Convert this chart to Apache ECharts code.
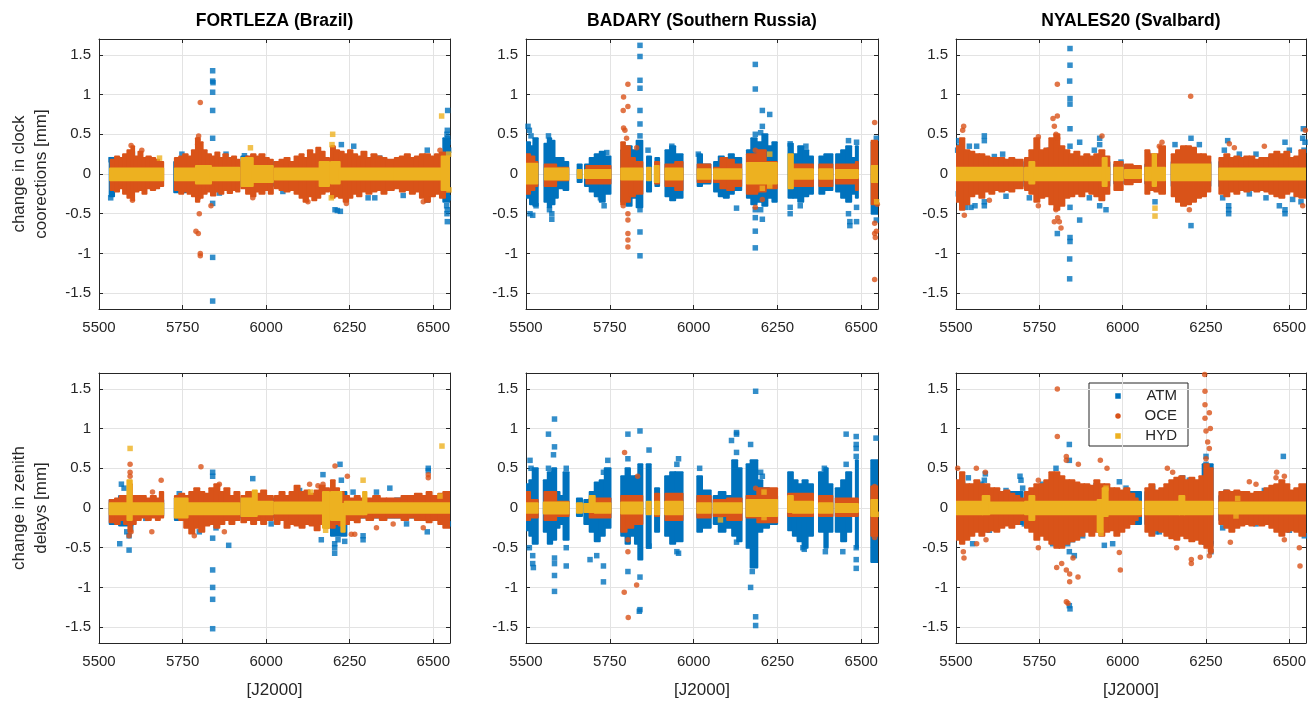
<!DOCTYPE html>
<html>
<head>
<meta charset="utf-8">
<title>Loading effects on clock and zenith delay estimates</title>
<script src="https://cdn.jsdelivr.net/npm/echarts@6/dist/echarts.min.js"></script>
<style>
  html, body { margin: 0; padding: 0; background: #ffffff; }
  #chart { width: 1316px; height: 701px; }
</style>
</head>
<body>
<div id="chart"></div>
<script>
// ---- labels and ticks ----
const stationTitles = ['FORTLEZA (Brazil)', 'BADARY (Southern Russia)', 'NYALES20 (Svalbard)'];
const rowLabels = ['change in clock\ncoorections [mm]', 'change in zenith\ndelays [mm]'];
const xAxisName = '[J2000]';
const seriesNames = ['ATM', 'OCE', 'HYD'];
const xTicks = [5500, 5750, 6000, 6250, 6500];
const yTicks = [-1.5, -1, -0.5, 0, 0.5, 1, 1.5];
const xRange = [5500, 6550];
const yRange = [-1.7, 1.7];

// ---- data: dense daily clouds as [dayFrom, dayTo, low, high], isolated values as [day, value] ----

// FORTLEZA, clock corrections
const fortClkAtmBand = [[5532,5545,-0.28,0.2],[5545,5690,-0.15,0.15],[5725,5760,-0.23,0.15],[5760,5920,-0.15,0.15],[5926,5945,-0.15,0.22],[5945,6020,-0.15,0.15],[6026,6188,-0.15,0.15],[6194,6250,-0.2,0.2],[6250,6382,-0.15,0.15],[6385,6530,-0.15,0.15],[6530,6550,-0.35,0.45]];
const fortClkAtmPts = [[5535,-0.3],[5536,0.18],[5538,-0.25],[5600,0.25],[5748,0.25],[5840,1.3],[5840,1.17],[5841,1.15],[5840,1.03],[5840,0.8],[5840,0.45],[5840,-0.37],[5840,-1.05],[5840,-1.6],[5880,0.25],[5935,0.23],[6206,-0.45],[6213,-0.46],[6222,-0.47],[6225,0.37],[6262,0.35],[6305,-0.3],[6325,-0.3],[6340,0.2],[6482,0.3],[6482,-0.33],[6543,0.8],[6542,0.55],[6541,0.5],[6543,0.45],[6544,0.4],[6540,-0.4],[6542,-0.45],[6541,-0.5],[6542,-0.6],[6546,0.3],[6545,-0.3],[5860,-0.24],[6050,-0.22],[6200,0.3],[6410,-0.27]];
const fortClkOceBand = [[5535,5548,-0.2,0.18],[5548,5560,-0.22,0.22],[5560,5572,-0.18,0.2],[5572,5585,-0.25,0.25],[5585,5597,-0.3,0.3],[5597,5605,-0.33,0.35],[5605,5618,-0.22,0.22],[5618,5630,-0.2,0.28],[5630,5642,-0.25,0.2],[5642,5655,-0.18,0.22],[5655,5668,-0.2,0.2],[5668,5680,-0.18,0.18],[5680,5692,-0.15,0.15],
  [5727,5740,-0.2,0.2],[5740,5752,-0.25,0.22],[5752,5765,-0.22,0.25],[5765,5778,-0.25,0.22],[5778,5790,-0.28,0.3],[5790,5800,-0.35,0.45],[5800,5810,-0.3,0.4],[5810,5822,-0.25,0.3],[5822,5835,-0.22,0.25],[5835,5848,-0.27,0.22],[5848,5860,-0.22,0.27],[5860,5872,-0.25,0.2],[5872,5885,-0.2,0.25],[5885,5898,-0.24,0.2],[5898,5910,-0.2,0.22],[5910,5920,-0.22,0.18],
  [5926,5940,-0.18,0.15],[5940,5955,-0.25,0.22],[5955,5968,-0.28,0.25],[5968,5980,-0.22,0.22],[5980,5995,-0.25,0.25],[5995,6008,-0.2,0.2],[6008,6020,-0.25,0.18],
  [6026,6040,-0.18,0.15],[6040,6055,-0.2,0.18],[6055,6070,-0.22,0.2],[6070,6085,-0.2,0.15],[6085,6100,-0.25,0.22],[6100,6112,-0.3,0.25],[6112,6125,-0.35,0.2],[6125,6138,-0.28,0.3],[6138,6150,-0.33,0.25],[6150,6162,-0.3,0.33],[6162,6175,-0.25,0.28],[6175,6188,-0.22,0.2],
  [6194,6205,-0.3,0.35],[6205,6218,-0.28,0.3],[6218,6232,-0.3,0.28],[6232,6245,-0.35,0.25],[6245,6258,-0.3,0.3],[6258,6272,-0.25,0.25],[6272,6285,-0.28,0.22],[6285,6300,-0.22,0.28],[6300,6315,-0.25,0.2],[6315,6330,-0.22,0.25],[6330,6345,-0.2,0.22],[6345,6360,-0.25,0.2],[6360,6382,-0.2,0.18],
  [6385,6400,-0.18,0.2],[6400,6415,-0.22,0.22],[6415,6430,-0.2,0.25],[6430,6445,-0.25,0.2],[6445,6460,-0.22,0.22],[6460,6475,-0.3,0.25],[6475,6490,-0.35,0.25],[6490,6505,-0.28,0.22],[6505,6520,-0.25,0.25],[6520,6535,-0.3,0.27],[6535,6550,-0.22,0.22]];
const fortClkOcePts = [[5596,0.36],[5600,-0.33],[5628,0.3],[5803,0.9],[5798,0.48],[5797,0.43],[5795,0.37],[5800,0.35],[5797,-0.3],[5800,-0.5],[5790,-0.72],[5797,-0.75],[5803,-1.0],[5803,-1.03],[5835,-0.4],[5960,-0.3],[6125,-0.35],[6200,0.33],[6240,-0.37],[6470,-0.35],[6520,0.3]];
const fortClkHydBand = [[5533,5692,-0.08,0.07],[5727,5790,-0.08,0.07],[5790,5835,-0.12,0.1],[5835,5920,-0.08,0.08],[5926,5960,-0.15,0.2],[5960,6020,-0.1,0.1],[6026,6160,-0.07,0.07],[6160,6188,-0.15,0.15],[6194,6220,-0.12,0.15],[6220,6382,-0.07,0.07],[6385,6525,-0.07,0.07],[6525,6550,-0.2,0.22]];
const fortClkHydPts = [[5681,0.2],[5953,0.33],[6199,0.5],[6197,0.37],[6195,-0.3],[6525,0.73],[6547,-0.2],[6546,0.25]];

// BADARY, clock corrections
const badClkAtmBand = [[5500,5512,-0.3,0.4],[5512,5522,-0.38,0.35],[5522,5535,-0.4,0.45],
  [5555,5565,-0.35,0.38],[5565,5575,-0.42,0.45],[5575,5585,-0.38,0.42],[5585,5595,-0.3,0.2],[5595,5612,-0.18,0.2],[5612,5626,-0.2,0.15],
  [5654,5666,-0.1,0.12],
  [5676,5690,-0.15,0.12],[5690,5705,-0.22,0.2],[5705,5720,-0.28,0.25],[5720,5735,-0.35,0.28],[5735,5752,-0.25,0.22],
  [5784,5800,-0.35,0.3],[5800,5815,-0.4,0.35],[5815,5830,-0.3,0.3],[5830,5847,-0.42,0.42],
  [5861,5873,-0.22,0.22],[5886,5897,-0.15,0.2],
  [5916,5930,-0.28,0.3],[5930,5945,-0.33,0.35],[5945,5967,-0.3,0.25],
  [6012,6025,-0.15,0.25],[6025,6050,-0.12,0.12],
  [6061,6075,-0.22,0.15],[6075,6090,-0.28,0.22],[6090,6105,-0.3,0.2],[6105,6120,-0.25,0.25],[6120,6142,-0.2,0.2],
  [6159,6172,-0.3,0.3],[6172,6188,-0.38,0.45],[6188,6205,-0.35,0.4],[6205,6220,-0.4,0.5],[6220,6235,-0.3,0.35],[6235,6248,-0.35,0.4],
  [6283,6296,-0.3,0.38],
  [6297,6312,-0.3,0.25],[6312,6327,-0.35,0.35],[6327,6342,-0.28,0.3],[6342,6356,-0.25,0.22],
  [6375,6390,-0.25,0.22],[6390,6414,-0.2,0.25],
  [6425,6440,-0.22,0.25],[6440,6455,-0.3,0.3],[6455,6470,-0.35,0.35],[6470,6480,-0.25,0.2],[6484,6490,-0.3,0.35],
  [6531,6550,-0.5,0.4]];
const badClkAtmPts = [[5506,0.6],[5510,0.55],[5515,0.48],[5512,-0.5],[5520,-0.52],[5530,-0.4],[5567,0.48],[5577,-0.5],[5577,-0.57],[5570,-0.45],[5733,-0.4],[5722,-0.3],[5741,0.27],[5840,1.62],[5840,1.48],[5840,1.18],[5840,1.08],[5840,0.8],[5840,0.63],[5840,0.48],[5840,-0.45],[5840,-0.73],[5840,-1.03],[5864,0.3],[5935,0.35],[6014,0.25],[6128,-0.43],[6184,1.38],[6184,1.07],[6205,0.8],[6227,0.75],[6205,0.6],[6200,0.52],[6184,0.5],[6184,-0.45],[6184,-0.55],[6184,-0.72],[6184,-0.93],[6205,-0.57],[6200,-0.45],[6288,-0.5],[6288,-0.42],[6288,0.38],[6318,-0.4],[6335,0.35],[6462,0.42],[6462,-0.5],[6466,-0.6],[6466,-0.65],[6486,-0.6],[6486,-0.42],[6486,0.4],[6545,-0.58],[6545,0.45]];
const badClkOceBand = [[5500,5512,-0.25,0.25],[5512,5525,-0.2,0.22],[5525,5534,-0.15,0.15],
  [5556,5590,-0.15,0.12],[5590,5626,-0.08,0.08],
  [5680,5752,-0.12,0.1],
  [5784,5795,-0.38,0.4],[5795,5810,-0.35,0.35],[5810,5825,-0.28,0.2],[5825,5847,-0.25,0.15],
  [5885,5897,-0.12,0.15],
  [5916,5945,-0.15,0.12],[5945,5967,-0.2,0.15],
  [6012,6050,-0.1,0.12],
  [6061,6080,-0.1,0.08],[6080,6100,-0.18,0.2],[6100,6120,-0.2,0.18],[6120,6142,-0.15,0.12],
  [6159,6190,-0.25,0.25],[6190,6215,-0.22,0.3],[6215,6248,-0.18,0.15],
  [6297,6356,-0.15,0.12],
  [6375,6414,-0.15,0.12],
  [6425,6480,-0.12,0.12],[6484,6490,-0.2,0.15],
  [6531,6550,-0.38,0.42]];
const badClkOcePts = [[5804,1.13],[5791,0.97],[5804,0.85],[5790,0.8],[5791,0.58],[5795,0.55],[5800,0.45],[5804,-0.5],[5804,-0.58],[5804,-0.75],[5804,-0.83],[5804,-0.92],[5790,-0.4],[5830,0.33],[6184,-0.42],[6184,0.3],[6205,-0.32],[6540,0.65],[6540,-0.62],[6540,-0.75],[6542,-0.8],[6545,-0.72],[6540,-1.33],[6548,-0.38]];
const badClkHydBand = [[5500,5534,-0.12,0.13],[5556,5626,-0.07,0.07],[5654,5666,-0.05,0.05],[5676,5752,-0.05,0.05],[5784,5847,-0.07,0.07],[5861,5872,-0.08,0.08],[5884,5896,-0.1,0.1],[5916,5967,-0.07,0.07],[6012,6050,-0.06,0.06],[6061,6142,-0.06,0.06],[6159,6248,-0.12,0.14],[6283,6296,-0.18,0.25],[6297,6356,-0.06,0.06],[6375,6414,-0.06,0.06],[6425,6490,-0.05,0.05],[6531,6550,-0.1,0.1]];
const badClkHydPts = [[6227,0.25],[6227,-0.15],[6205,-0.18],[6546,-0.35]];

// NYALES20, clock corrections
const nyaClkAtmBand = [[5500,5700,-0.15,0.15],[5707,5960,-0.15,0.15],[5975,6000,-0.12,0.12],[6007,6055,-0.08,0.08],[6068,6127,-0.12,0.12],[6147,6263,-0.15,0.15],[6290,6550,-0.15,0.15]];
const nyaClkAtmPts = [[5508,0.42],[5510,0.35],[5528,-0.42],[5545,-0.42],[5557,-0.4],[5540,0.35],[5562,0.35],[5585,0.48],[5585,0.42],[5585,-0.4],[5585,-0.35],[5615,0.22],[5842,1.58],[5842,1.37],[5841,1.17],[5842,0.95],[5842,0.88],[5842,0.57],[5842,0.35],[5842,-0.42],[5842,-0.8],[5842,-0.85],[5841,-1.07],[5841,-1.32],[5804,-0.75],[5871,-0.58],[5871,0.4],[5931,0.45],[5931,0.37],[5931,-0.4],[5950,-0.45],[5995,0.15],[6097,-0.35],[6157,0.37],[6205,0.45],[6205,-0.65],[6230,0.37],[6315,0.42],[6318,-0.4],[6318,-0.45],[6318,-0.5],[6470,-0.4],[6487,-0.45],[6487,-0.5],[6487,0.4],[6542,0.57],[6540,0.45],[6544,0.3],
  [5505,0.3],[5507,-0.25],[5520,-0.3],[5640,0.25],[5650,-0.28],[5720,-0.3],[5780,0.3],[5900,-0.3],[5915,0.3],[6075,0.25],[6300,-0.3],[6305,0.3],[6350,0.25],[6380,-0.25],[6400,0.25],[6430,-0.3],[6445,0.2],[6500,0.3],[6510,-0.32],[6535,-0.35],[6547,0.4]];
const nyaClkOceBand = [[5500,5512,-0.35,0.35],[5512,5525,-0.45,0.45],[5525,5540,-0.38,0.3],[5540,5555,-0.28,0.28],[5555,5570,-0.25,0.25],[5570,5585,-0.3,0.25],[5585,5600,-0.22,0.22],[5600,5615,-0.25,0.2],[5615,5630,-0.2,0.2],[5630,5645,-0.22,0.2],[5645,5660,-0.2,0.18],[5660,5675,-0.22,0.2],[5675,5700,-0.18,0.18],
  [5707,5720,-0.2,0.2],[5720,5735,-0.25,0.3],[5735,5750,-0.35,0.45],[5750,5765,-0.3,0.3],[5765,5780,-0.28,0.32],[5780,5795,-0.38,0.45],[5795,5810,-0.45,0.5],[5810,5825,-0.4,0.35],[5825,5840,-0.3,0.3],[5840,5855,-0.28,0.25],[5855,5870,-0.25,0.28],[5870,5885,-0.28,0.22],[5885,5900,-0.22,0.25],[5900,5915,-0.25,0.22],[5915,5930,-0.28,0.25],[5930,5945,-0.33,0.3],[5945,5960,-0.25,0.22],
  [5975,6000,-0.2,0.15],
  [6007,6030,-0.13,0.12],[6030,6055,-0.1,0.1],
  [6068,6080,-0.25,0.3],[6080,6095,-0.2,0.25],[6095,6110,-0.22,0.25],[6110,6127,-0.25,0.35],
  [6147,6160,-0.28,0.25],[6160,6175,-0.35,0.3],[6175,6190,-0.4,0.35],[6190,6205,-0.38,0.35],[6205,6220,-0.35,0.33],[6220,6235,-0.3,0.25],[6235,6250,-0.28,0.25],[6250,6263,-0.22,0.22],
  [6290,6305,-0.25,0.2],[6305,6320,-0.28,0.25],[6320,6335,-0.22,0.2],[6335,6350,-0.25,0.22],[6350,6365,-0.2,0.2],[6365,6380,-0.22,0.22],[6380,6395,-0.2,0.22],[6395,6410,-0.22,0.18],[6410,6425,-0.2,0.2],[6425,6440,-0.22,0.2],[6440,6455,-0.25,0.25],[6455,6470,-0.28,0.28],[6470,6485,-0.3,0.25],[6485,6500,-0.25,0.28],[6500,6515,-0.22,0.2],[6515,6530,-0.28,0.22],[6530,6550,-0.3,0.3]];
const nyaClkOcePts = [[5523,0.6],[5520,0.55],[5525,-0.52],[5600,-0.33],[5747,0.47],[5747,-0.4],[5804,1.13],[5804,0.73],[5791,0.7],[5795,0.6],[5800,0.5],[5805,0.45],[5800,-0.45],[5805,-0.55],[5795,-0.6],[5815,-0.68],[5810,-0.6],[5938,0.48],[6110,0.35],[6118,0.4],[6204,0.98],[6200,-0.45],[6320,0.38],[6335,0.33],[6425,0.35],[6540,-0.4],[6548,0.55]];
const nyaClkHydBand = [[5500,5700,-0.08,0.08],[5707,5720,-0.08,0.08],[5720,5735,-0.12,0.15],[5735,5940,-0.08,0.08],[5940,5952,-0.15,0.2],[5952,5960,-0.08,0.08],[5975,6000,-0.08,0.08],[6007,6055,-0.05,0.05],[6068,6090,-0.08,0.08],[6090,6100,-0.15,0.25],[6100,6127,-0.08,0.08],[6147,6263,-0.08,0.12],[6290,6550,-0.07,0.07]];
const nyaClkHydPts = [[6097,-0.43],[6097,-0.53]];

// FORTLEZA, zenith delays
const fortZtdAtmBand = [[5532,5560,-0.2,0.1],[5560,5600,-0.22,0.15],[5600,5692,-0.1,0.1],[5727,5920,-0.15,0.12],[5926,6020,-0.12,0.12],[6026,6188,-0.15,0.12],[6194,6240,-0.35,0.2],[6240,6382,-0.12,0.1],[6385,6550,-0.12,0.12]];
const fortZtdAtmPts = [[5567,0.3],[5575,0.25],[5583,-0.3],[5590,-0.35],[5595,-0.25],[5562,-0.45],[5590,-0.53],[5640,-0.13],[5840,0.45],[5840,0.4],[5840,-0.38],[5840,-0.78],[5840,-1.0],[5840,-1.15],[5840,-1.52],[5888,-0.47],[5960,0.37],[6165,-0.4],[6170,0.42],[6205,-0.45],[6205,-0.5],[6205,-0.57],[6215,-0.4],[6221,0.55],[6225,0.35],[6235,-0.42],[6290,-0.35],[6290,-0.4],[6330,0.2],[6370,0.25],[6485,0.5],[6485,0.47],[6482,-0.3],[6545,-0.2],[5740,0.18],[5800,-0.3],[5850,-0.25],[6015,-0.2],[6100,0.22],[6260,0.2],[6420,-0.2]];
const fortZtdOceBand = [[5532,5548,-0.18,0.1],[5548,5562,-0.2,0.12],[5562,5575,-0.15,0.15],[5575,5588,-0.2,0.15],[5588,5598,-0.3,0.3],[5598,5610,-0.2,0.15],[5610,5625,-0.15,0.15],[5625,5640,-0.12,0.15],[5640,5655,-0.15,0.12],[5655,5670,-0.12,0.15],[5670,5682,-0.15,0.12],[5682,5692,-0.12,0.2],
  [5727,5740,-0.12,0.15],[5740,5755,-0.15,0.18],[5755,5770,-0.25,0.15],[5770,5785,-0.32,0.2],[5785,5800,-0.25,0.25],[5800,5815,-0.3,0.2],[5815,5830,-0.22,0.18],[5830,5845,-0.2,0.25],[5845,5860,-0.25,0.3],[5860,5875,-0.2,0.2],[5875,5890,-0.15,0.25],[5890,5905,-0.2,0.15],[5905,5920,-0.15,0.2],
  [5926,5940,-0.18,0.15],[5940,5955,-0.15,0.2],[5955,5970,-0.2,0.15],[5970,5985,-0.15,0.18],[5985,6000,-0.2,0.22],[6000,6020,-0.15,0.15],
  [6026,6040,-0.2,0.15],[6040,6055,-0.15,0.2],[6055,6070,-0.25,0.15],[6070,6085,-0.2,0.2],[6085,6100,-0.22,0.28],[6100,6115,-0.25,0.2],[6115,6130,-0.2,0.22],[6130,6145,-0.22,0.18],[6145,6160,-0.28,0.22],[6160,6175,-0.2,0.28],[6175,6188,-0.25,0.25],
  [6194,6205,-0.25,0.35],[6205,6218,-0.2,0.25],[6218,6232,-0.22,0.2],[6232,6248,-0.2,0.15],[6248,6265,-0.15,0.12],[6265,6280,-0.18,0.15],[6280,6300,-0.12,0.12],[6300,6320,-0.15,0.12],[6320,6340,-0.12,0.15],[6340,6360,-0.15,0.12],[6360,6382,-0.12,0.12],
  [6385,6405,-0.12,0.12],[6405,6425,-0.15,0.15],[6425,6445,-0.12,0.15],[6445,6465,-0.15,0.18],[6465,6480,-0.15,0.15],[6480,6495,-0.18,0.2],[6495,6515,-0.15,0.15],[6515,6530,-0.2,0.18],[6530,6550,-0.25,0.2]];
const fortZtdOcePts = [[5593,0.55],[5593,0.45],[5593,0.4],[5590,-0.35],[5596,-0.3],[5686,0.35],[5658,-0.3],[5660,0.2],[5805,0.52],[5860,0.3],[5875,-0.3],[5785,-0.35],[6130,0.3],[6155,0.28],[6170,0.3],[6206,0.53],[6243,0.4],[6255,-0.33],[6265,-0.33],[6330,-0.25],[6485,0.42],[6485,0.38],[6470,-0.25],[6380,-0.2]];
const fortZtdHydBand = [[5532,5585,-0.08,0.06],[5585,5598,-0.15,0.35],[5598,5692,-0.08,0.06],[5727,5765,-0.12,0.12],[5765,5920,-0.08,0.06],[5926,5960,-0.1,0.12],[5960,5972,-0.1,0.22],[5972,6020,-0.08,0.08],[6026,6170,-0.07,0.07],[6170,6188,-0.25,0.2],[6194,6225,-0.15,0.2],[6225,6235,-0.3,0.05],[6235,6290,-0.08,0.08],[6290,6300,-0.08,0.2],[6300,6550,-0.06,0.06]];
const fortZtdHydPts = [[5593,0.75],[6133,0.2],[6178,-0.28],[6290,0.35],[6526,0.78],[6520,0.15]];

// BADARY, zenith delays
const badZtdAtmBand = [[5500,5510,-0.28,0.3],[5510,5520,-0.35,0.35],[5520,5535,-0.45,0.5],
  [5553,5565,-0.3,0.35],[5565,5578,-0.45,0.45],[5578,5590,-0.4,0.5],[5590,5600,-0.25,0.2],[5600,5612,-0.2,0.15],[5612,5627,-0.4,0.45],
  [5652,5667,-0.1,0.12],
  [5674,5690,-0.2,0.1],[5690,5705,-0.3,0.2],[5705,5720,-0.42,0.32],[5720,5735,-0.35,0.35],[5735,5752,-0.25,0.5],
  [5784,5797,-0.35,0.4],[5797,5810,-0.45,0.5],[5810,5825,-0.35,0.4],[5825,5835,-0.45,0.4],[5835,5847,-0.65,0.55],
  [5860,5872,-0.5,0.55],[5885,5897,-0.3,0.25],
  [5915,5930,-0.35,0.4],[5930,5945,-0.45,0.45],[5945,5967,-0.42,0.45],
  [6011,6025,-0.3,0.4],[6025,6051,-0.25,0.22],
  [6060,6075,-0.2,0.15],[6075,6095,-0.3,0.2],[6095,6115,-0.25,0.15],[6115,6130,-0.35,0.6],[6130,6143,-0.42,0.5],
  [6158,6170,-0.5,0.55],[6170,6190,-0.75,0.6],[6190,6205,-0.3,0.35],[6205,6225,-0.25,0.25],[6225,6249,-0.2,0.15],
  [6282,6296,-0.28,0.45],[6296,6310,-0.35,0.35],[6310,6325,-0.42,0.3],[6325,6340,-0.5,0.35],[6340,6356,-0.35,0.3],
  [6374,6390,-0.3,0.45],[6390,6400,-0.5,0.5],[6400,6414,-0.3,0.3],
  [6424,6440,-0.3,0.25],[6440,6455,-0.42,0.35],[6455,6470,-0.3,0.45],[6484,6490,-0.5,0.6],
  [6530,6550,-0.68,0.6]];
const badZtdAtmPts = [[5512,0.6],[5515,0.5],[5520,-0.6],[5520,-0.7],[5522,-0.75],[5510,-0.5],[5585,1.12],[5567,0.93],[5585,0.77],[5582,0.67],[5567,0.5],[5585,-0.63],[5585,-0.7],[5585,-0.85],[5585,-1.05],[5620,0.5],[5620,-0.5],[5620,-0.73],[5744,0.6],[5731,0.45],[5691,-0.65],[5711,-0.6],[5731,-0.73],[5731,-0.93],[5840,0.97],[5804,0.93],[5804,0.62],[5804,-0.8],[5840,-0.87],[5840,-1.28],[5838,-1.3],[5867,0.73],[5867,-0.48],[5955,0.62],[5950,0.55],[5955,-0.57],[5950,-0.55],[6018,0.5],[6128,0.95],[6128,0.93],[6113,0.85],[6128,0.7],[6128,-0.43],[6185,1.47],[6170,0.8],[6170,-1.0],[6185,-1.37],[6185,-1.48],[6180,-0.7],[6175,-0.8],[6200,0.45],[6205,0.4],[6326,-0.5],[6330,-0.52],[6393,-0.55],[6390,0.5],[6455,0.55],[6445,-0.55],[6455,0.93],[6485,0.9],[6485,0.8],[6485,0.75],[6485,0.65],[6485,-0.5],[6485,-0.65],[6485,-0.76],[6544,0.88]];
const badZtdOceBand = [[5500,5512,-0.15,0.2],[5512,5535,-0.12,0.1],[5555,5590,-0.15,0.2],[5590,5627,-0.1,0.08],[5690,5752,-0.12,0.12],[5784,5800,-0.3,0.15],[5800,5820,-0.25,0.15],[5820,5847,-0.2,0.15],[5885,5897,-0.1,0.18],[5916,5967,-0.15,0.18],[6011,6051,-0.12,0.15],[6060,6100,-0.1,0.1],[6100,6143,-0.15,0.12],[6158,6190,-0.12,0.15],[6190,6249,-0.18,0.25],[6282,6356,-0.1,0.18],[6374,6414,-0.1,0.15],[6424,6490,-0.1,0.12],[6530,6550,-0.35,0.27]];
const badZtdOcePts = [[5794,0.7],[5833,0.4],[5804,-0.4],[5804,-0.55],[5830,-0.97],[5793,-1.06],[5805,-1.38],[6185,0.25],[6540,-0.37],[6540,0.27]];
const badZtdHydBand = [[5500,5535,-0.06,0.06],[5553,5627,-0.07,0.07],[5652,5667,-0.06,0.06],[5674,5690,-0.05,0.05],[5690,5705,-0.05,0.15],[5705,5752,-0.06,0.06],[5784,5847,-0.07,0.07],[5860,5872,-0.08,0.08],[5885,5897,-0.08,0.08],[5915,5967,-0.08,0.08],[6011,6051,-0.06,0.06],[6060,6143,-0.06,0.06],[6158,6249,-0.1,0.1],[6282,6296,-0.05,0.15],[6296,6356,-0.06,0.08],[6374,6414,-0.06,0.06],[6424,6490,-0.05,0.05],[6530,6550,-0.1,0.1]];
const badZtdHydPts = [[6080,-0.15],[6210,0.2],[6210,-0.12],[6545,-0.08]];

// NYALES20, zenith delays
const nyaZtdAtmBand = [[5500,5700,-0.2,0.2],[5707,6055,-0.2,0.2],[6068,6240,-0.2,0.2],[6240,6270,-0.45,0.55],[6290,6550,-0.15,0.15]];
const nyaZtdAtmPts = [[5537,0.38],[5588,0.43],[5585,0.35],[5550,-0.45],[5692,0.4],[5695,0.35],[5840,0.8],[5840,0.6],[5800,0.5],[5835,-0.45],[5840,-0.55],[5855,-0.6],[5850,-0.4],[5840,-1.23],[5842,-1.27],[5945,-0.47],[5970,-0.45],[5990,0.33],[6250,0.65],[6250,0.55],[6252,0.45],[6265,-0.45],[6265,-0.55],[6180,0.38],[6200,0.35],[6100,-0.3],[6482,0.65],[6430,0.2],[6455,0.25],[6320,-0.2],[6545,-0.35],
  [5520,0.3],[5530,-0.3],[5575,0.3],[5600,-0.28],[5650,0.22],[5700,0.25],[5705,-0.2],[5760,0.3],[5790,-0.45],[5820,0.3],[5880,-0.35],[5920,0.28],[6010,0.25],[6090,0.25],[6110,-0.3],[6160,-0.35],[6300,-0.25],[6310,0.2],[6400,-0.2],[6425,0.22],[6500,-0.28],[6540,0.2]];
const nyaZtdOceBand = [[5500,5512,-0.4,0.35],[5512,5525,-0.45,0.45],[5525,5540,-0.4,0.3],[5540,5555,-0.35,0.3],[5555,5570,-0.3,0.35],[5570,5585,-0.35,0.3],[5585,5600,-0.3,0.3],[5600,5615,-0.28,0.25],[5615,5630,-0.3,0.25],[5630,5645,-0.25,0.2],[5645,5660,-0.22,0.22],[5660,5675,-0.25,0.18],[5675,5690,-0.2,0.15],[5690,5702,-0.15,0.12],
  [5707,5720,-0.25,0.2],[5720,5735,-0.3,0.25],[5735,5750,-0.4,0.3],[5750,5765,-0.35,0.3],[5765,5780,-0.4,0.35],[5780,5795,-0.45,0.45],[5795,5810,-0.5,0.45],[5810,5825,-0.5,0.4],[5825,5840,-0.45,0.35],[5840,5855,-0.42,0.35],[5855,5870,-0.4,0.32],[5870,5885,-0.35,0.3],[5885,5900,-0.3,0.3],[5900,5915,-0.35,0.28],[5915,5930,-0.3,0.35],[5930,5945,-0.35,0.3],[5945,5960,-0.3,0.3],[5960,5975,-0.28,0.25],[5975,5990,-0.35,0.25],[5990,6005,-0.3,0.22],[6005,6020,-0.25,0.25],[6020,6035,-0.2,0.18],[6035,6045,-0.15,0.12],[6045,6055,-0.1,0.08],
  [6068,6080,-0.3,0.25],[6080,6095,-0.35,0.3],[6095,6110,-0.28,0.22],[6110,6125,-0.3,0.25],[6125,6140,-0.35,0.3],[6140,6155,-0.38,0.35],[6155,6170,-0.4,0.38],[6170,6185,-0.35,0.4],[6185,6200,-0.38,0.35],[6200,6215,-0.42,0.38],[6215,6230,-0.4,0.35],[6230,6245,-0.45,0.4],[6245,6258,-0.5,0.55],[6258,6270,-0.55,0.5],
  [6290,6305,-0.2,0.2],[6305,6320,-0.25,0.22],[6320,6335,-0.3,0.2],[6335,6350,-0.25,0.22],[6350,6365,-0.22,0.2],[6365,6380,-0.2,0.2],[6380,6395,-0.22,0.18],[6395,6410,-0.2,0.2],[6410,6425,-0.22,0.2],[6425,6440,-0.2,0.25],[6440,6455,-0.25,0.28],[6455,6470,-0.3,0.3],[6470,6485,-0.35,0.35],[6485,6500,-0.3,0.3],[6500,6515,-0.28,0.22],[6515,6530,-0.3,0.25],[6530,6550,-0.35,0.3]];
const nyaZtdOcePts = [[5505,0.5],[5522,-0.55],[5524,-0.63],[5561,0.5],[5588,0.45],[5590,-0.4],[5562,-0.45],[5747,-0.5],[5747,0.35],[5804,1.5],[5804,0.9],[5831,0.65],[5831,0.6],[5867,0.55],[5933,0.6],[5953,0.5],[5802,-0.75],[5817,-0.7],[5851,-0.63],[5831,-0.78],[5841,-0.83],[5841,-0.93],[5866,-0.87],[5831,-1.18],[5836,-1.2],[5990,-0.56],[5993,-0.78],[6134,0.5],[6150,0.45],[6162,-0.5],[6246,1.68],[6247,1.47],[6247,1.3],[6247,1.13],[6260,1.2],[6250,0.97],[6263,1.0],[6255,0.83],[6260,0.75],[6250,0.62],[6260,-0.6],[6265,-0.55],[6233,-0.62],[6206,-0.65],[6206,-0.7],[6323,-0.43],[6460,0.38],[6462,0.45],[6485,0.4],[6485,-0.4],[6530,-0.5],[6532,-0.73],[6400,0.3],[6380,0.33]];
const nyaZtdHydBand = [[5500,5580,-0.08,0.08],[5580,5600,-0.08,0.15],[5600,5702,-0.07,0.07],[5707,5720,-0.08,0.08],[5720,5735,-0.15,0.15],[5735,5925,-0.08,0.08],[5925,5940,-0.3,0.1],[5940,5955,-0.1,0.25],[5955,6055,-0.08,0.08],[6068,6170,-0.08,0.08],[6170,6185,-0.08,0.15],[6185,6270,-0.08,0.08],[6290,6550,-0.07,0.07]];
const nyaZtdHydPts = [[5935,-0.32],[5950,0.25],[6340,-0.1],[6345,0.12]];

// ---- panel assembly (row-major: clock row, then zenith row) ----
const panelBands = [
  [fortClkAtmBand, fortClkOceBand, fortClkHydBand],
  [badClkAtmBand, badClkOceBand, badClkHydBand],
  [nyaClkAtmBand, nyaClkOceBand, nyaClkHydBand],
  [fortZtdAtmBand, fortZtdOceBand, fortZtdHydBand],
  [badZtdAtmBand, badZtdOceBand, badZtdHydBand],
  [nyaZtdAtmBand, nyaZtdOceBand, nyaZtdHydBand]
];
const panelPts = [
  [fortClkAtmPts, fortClkOcePts, fortClkHydPts],
  [badClkAtmPts, badClkOcePts, badClkHydPts],
  [nyaClkAtmPts, nyaClkOcePts, nyaClkHydPts],
  [fortZtdAtmPts, fortZtdOcePts, fortZtdHydPts],
  [badZtdAtmPts, badZtdOcePts, badZtdHydPts],
  [nyaZtdAtmPts, nyaZtdOcePts, nyaZtdHydPts]
];

// ---- styling ----
const FONT = '"Liberation Sans", Arial, Helvetica, sans-serif';
const COLORS = ['#0072BD', '#D95319', '#EDB120'];
const SYMBOLS = ['rect', 'circle', 'rect'];
const MARK = 5.5;          // marker size in px
const PAD = 1;             // edge softening of the dense clouds, px
const AX = '#262626';
const GRIDLINE = '#e3e3e3';
const colLeft = [99, 526, 956];
const colWidth = [351, 352, 350];
const rowTop = [39, 373];
const plotH = 270;

const grids = [], xAxes = [], yAxes = [], series = [], graphics = [];

function bandRenderer(color) {
  return function (params, api) {
    const a = api.coord([api.value(0), api.value(3)]);
    const b = api.coord([api.value(1), api.value(2)]);
    return {
      type: 'rect',
      shape: { x: a[0] - PAD, y: a[1] - PAD, width: b[0] - a[0] + 2 * PAD, height: b[1] - a[1] + 2 * PAD, r: 1 },
      style: { fill: color }
    };
  };
}
const plainNumber = function (v) { return String(v); };

for (let p = 0; p < 6; p++) {
  const r = Math.floor(p / 3), c = p % 3;
  grids.push({ left: colLeft[c], top: rowTop[r], width: colWidth[c], height: plotH, containLabel: false });

  const xi = xAxes.length, yi = yAxes.length;
  // bottom / left axes carry labels, grid lines and ticks
  xAxes.push({
    type: 'value', gridIndex: p, min: xRange[0], max: xRange[1], position: 'bottom',
    axisLine: { show: true, onZero: false, lineStyle: { color: AX, width: 1 } },
    axisTick: { show: true, inside: true, length: 4, customValues: xTicks, lineStyle: { color: AX } },
    axisLabel: { show: true, customValues: xTicks, formatter: plainNumber, color: AX, fontSize: 15, fontFamily: FONT, margin: 11 },
    splitLine: { show: true, lineStyle: { color: GRIDLINE, width: 1 } }
  });
  yAxes.push({
    type: 'value', gridIndex: p, min: yRange[0], max: yRange[1], position: 'left',
    axisLine: { show: true, onZero: false, lineStyle: { color: AX, width: 1 } },
    axisTick: { show: true, inside: true, length: 4, customValues: yTicks, lineStyle: { color: AX } },
    axisLabel: { show: true, customValues: yTicks, formatter: plainNumber, color: AX, fontSize: 15, fontFamily: FONT, margin: 8 },
    splitLine: { show: true, lineStyle: { color: GRIDLINE, width: 1 } }
  });
  // top / right axes close the box
  xAxes.push({
    type: 'value', gridIndex: p, min: xRange[0], max: xRange[1], position: 'top',
    axisLine: { show: true, onZero: false, lineStyle: { color: AX, width: 1 } },
    axisTick: { show: true, inside: true, length: 4, customValues: xTicks, lineStyle: { color: AX } },
    axisLabel: { show: false }, splitLine: { show: false }
  });
  yAxes.push({
    type: 'value', gridIndex: p, min: yRange[0], max: yRange[1], position: 'right',
    axisLine: { show: true, onZero: false, lineStyle: { color: AX, width: 1 } },
    axisTick: { show: true, inside: true, length: 4, customValues: yTicks, lineStyle: { color: AX } },
    axisLabel: { show: false }, splitLine: { show: false }
  });

  for (let s = 0; s < 3; s++) {
    series.push({
      type: 'custom', name: seriesNames[s], coordinateSystem: 'cartesian2d',
      xAxisIndex: xi, yAxisIndex: yi, clip: true, silent: true,
      encode: { x: [0, 1], y: [2, 3] },
      renderItem: bandRenderer(COLORS[s]),
      data: panelBands[p][s], z: 2 + s
    });
    series.push({
      type: 'scatter', name: seriesNames[s], xAxisIndex: xi, yAxisIndex: yi,
      symbol: SYMBOLS[s], symbolSize: MARK, clip: true, silent: true,
      itemStyle: { color: COLORS[s] },
      data: panelPts[p][s], z: 2 + s
    });
  }

  if (r === 0) {
    graphics.push({
      type: 'text', x: colLeft[c] + colWidth[c] / 2, y: 21,
      style: { text: stationTitles[c], fontSize: 17.5, fontWeight: 'bold', fontFamily: FONT, fill: '#000', align: 'center', verticalAlign: 'middle' }
    });
  } else {
    graphics.push({
      type: 'text', x: colLeft[c] + colWidth[c] / 2, y: 690,
      style: { text: xAxisName, fontSize: 17, fontFamily: FONT, fill: AX, align: 'center', verticalAlign: 'middle' }
    });
  }
}

// row labels on the left
for (let r = 0; r < 2; r++) {
  graphics.push({
    type: 'text', x: 30, y: rowTop[r] + plotH / 2, rotation: Math.PI / 2,
    style: { text: rowLabels[r], fontSize: 17, fontFamily: FONT, fill: AX, align: 'center', verticalAlign: 'middle', lineHeight: 22 }
  });
}

// legend box inside the lower-right panel
const legX = 1089, legY = 383;
const legendChildren = [{
  type: 'rect', shape: { x: 0, y: 0, width: 99, height: 63 },
  style: { fill: '#ffffff', stroke: AX, lineWidth: 1 }
}];
for (let s = 0; s < 3; s++) {
  const cy = 13 + s * 20;
  if (SYMBOLS[s] === 'circle') {
    legendChildren.push({ type: 'circle', shape: { cx: 29, cy: cy, r: MARK / 2 }, style: { fill: COLORS[s] } });
  } else {
    legendChildren.push({ type: 'rect', shape: { x: 29 - MARK / 2, y: cy - MARK / 2, width: MARK, height: MARK }, style: { fill: COLORS[s] } });
  }
  legendChildren.push({
    type: 'text', x: 88, y: cy,
    style: { text: seriesNames[s], fontSize: 15, fontFamily: FONT, fill: AX, align: 'right', verticalAlign: 'middle' }
  });
}
graphics.push({ type: 'group', x: legX, y: legY, z: 100, children: legendChildren });

const chart = echarts.init(document.getElementById('chart'), null, { renderer: 'canvas' });
chart.setOption({
  backgroundColor: '#ffffff',
  animation: false,
  grid: grids,
  xAxis: xAxes,
  yAxis: yAxes,
  series: series,
  graphic: graphics
});
</script>
</body>
</html>
